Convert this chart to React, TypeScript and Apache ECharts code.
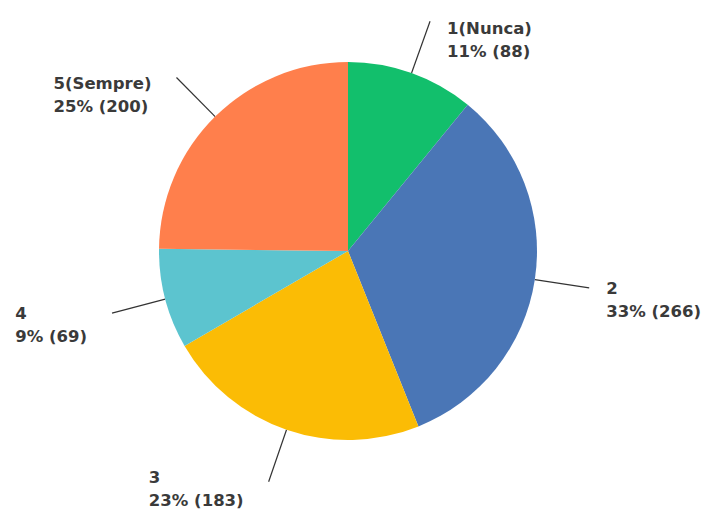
import React, { useEffect, useRef } from "react";
import * as echarts from "echarts";

const categories = ["1(Nunca)", "2", "3", "4", "5(Sempre)"];
const values = [88, 266, 183, 69, 200];
const percents = ["11%", "33%", "23%", "9%", "25%"];
const colors = ["#12bf6c", "#4a76b6", "#fbbc05", "#5cc4cf", "#ff7f4c"];

const FONT = "bold 16.5px 'DejaVu Sans'";

function labelText(i: number) {
  return `${categories[i]}\n${percents[i]} (${values[i]})`;
}

export default function App() {
  const ref = useRef<HTMLDivElement>(null);
  useEffect(() => {
    const chart = echarts.init(ref.current!, null, { renderer: "svg" });
    const canvas = document.createElement("canvas");
    const ctx = canvas.getContext("2d")!;
    ctx.font = FONT;
    const measure = (i: number) =>
      Math.max(...labelText(i).split("\n").map((s) => ctx.measureText(s).width));
    const data = categories.map((c, i) => ({
      name: c,
      value: values[i],
      itemStyle: { color: colors[i] },
    }));
    chart.setOption({
      animation: false,
      backgroundColor: "#ffffff",
      series: [
        {
          type: "pie",
          left: 0,
          top: 0,
          width: 1200,
          height: 516,
          center: [348, 251],
          radius: [0, 189],
          startAngle: 90,
          clockwise: true,
          avoidLabelOverlap: false,
          data,
          itemStyle: { borderWidth: 0 },
          emphasis: { disabled: true },
          label: {
            show: true,
            position: "outside",
            overflow: "none",
            fontFamily: "DejaVu Sans",
            fontWeight: "bold",
            fontSize: 16.5,
            lineHeight: 23,
            color: "#3a3a3a",
            formatter: (p: any) => labelText(p.dataIndex),
          },
          labelLine: {
            show: true,
            length: 55,
            length2: 0,
            smooth: 0.2,
            lineStyle: { color: "#333333", width: 1.2 },
          },
          labelLayout: (params: any) => {
            const pts = params.labelLinePoints;
            if (!pts) return {};
            const end = pts[pts.length - 1];
            const start = pts[0];
            const vx = end[0] - start[0];
            const vy = end[1] - start[1];
            const len = Math.sqrt(vx * vx + vy * vy) || 1;
            const dy = vy / len;
            const left = vx < 0;
            const w = measure(params.dataIndex);
            return {
              x: left ? end[0] - 25 - w : end[0] + 17,
              y: end[1] - 10 - 6 * dy,
              align: "left",
              verticalAlign: "top",
              labelLinePoints: pts,
            };
          },
        },
      ],
    });
    return () => chart.dispose();
  }, []);
  return (
    <div
      ref={ref}
      style={{ position: "fixed", left: 0, top: 0, width: 712, height: 516 }}
    />
  );
}
